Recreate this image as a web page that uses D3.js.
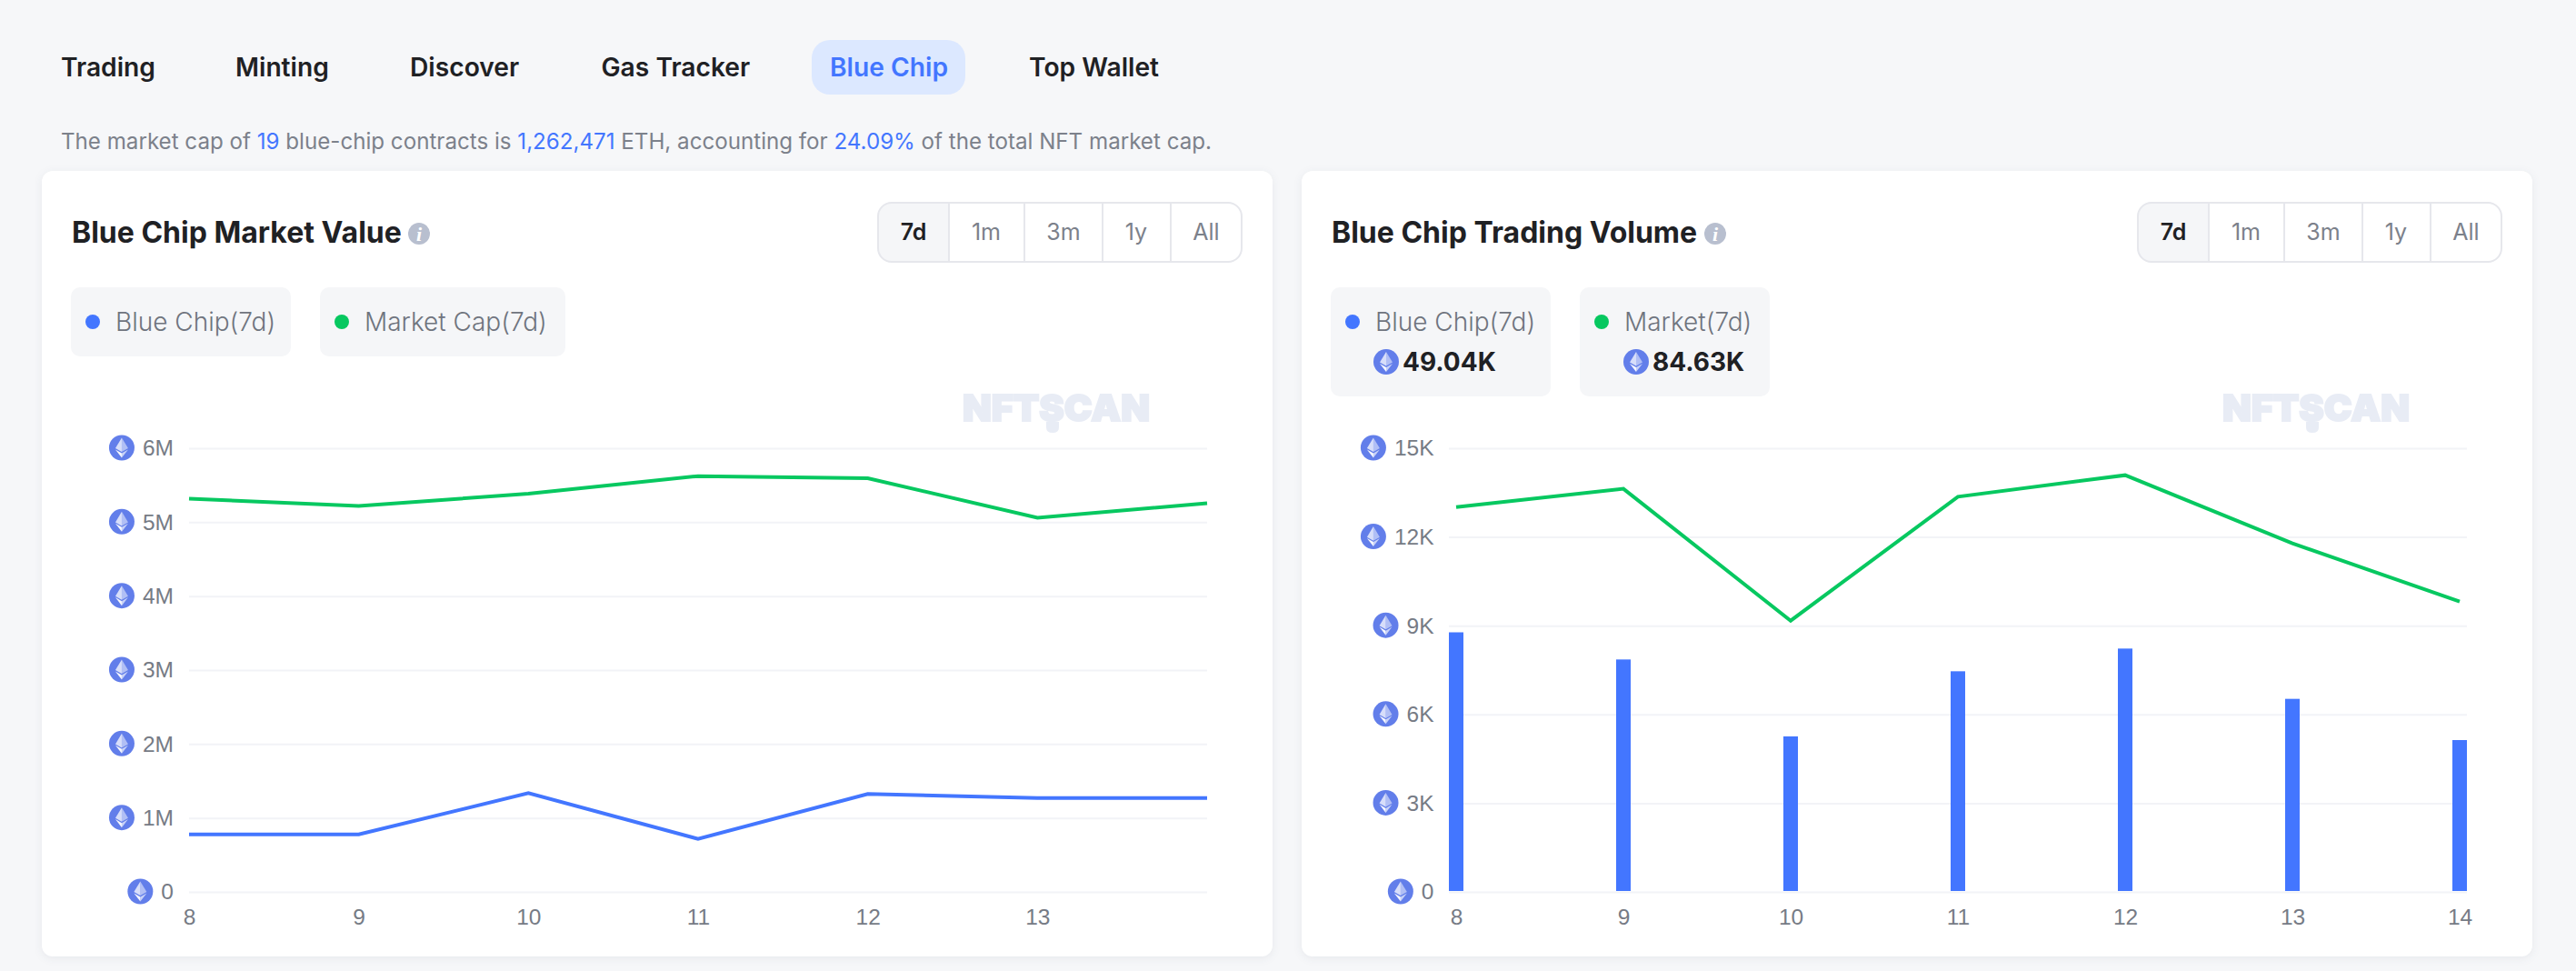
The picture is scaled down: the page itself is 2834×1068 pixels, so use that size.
<!DOCTYPE html>
<html>
<head>
<meta charset="utf-8">
<script src="https://cdn.jsdelivr.net/npm/d3@7"></script>
<style>
  html, body { margin: 0; background: #f6f7f9; }
  svg { display: block; font-family: Inter, "Noto Sans", sans-serif; }
  .tick text { font-size: 24.5px; font-weight: 300; fill: #767b85; }
  .y-axis .tick line { stroke: #f2f3f7; stroke-width: 2px; }
</style>
</head>
<body>
<div id="root"></div>
<script>
const days = ["8", "9", "10", "11", "12", "13", "14"];

const valueBlueChip = [777000, 777000, 1335000, 717000, 1324000, 1270000, 1270000];
const valueMarketCap = [5318000, 5218000, 5385000, 5623000, 5594000, 5061000, 5256000];
const valueTicks = [0, 1000000, 2000000, 3000000, 4000000, 5000000, 6000000];

const volumeBlueChip = [8776, 7858, 5258, 7459, 8227, 6527, 5133];
const volumeMarket = [13009, 13628, 9169, 13361, 14088, 11783, 9816];
const volumeTicks = [0, 3000, 6000, 9000, 12000, 15000];

const tabs = ["Trading", "Minting", "Discover", "Gas Tracker", "Blue Chip", "Top Wallet"];
const ranges = ["7d", "1m", "3m", "1y", "All"];

const BLUE = "#4376ff";
const GREEN = "#07c860";
const GREY = "#7c818b";
const DARK = "#1f2124";

const svg = d3.select("#root").append("svg")
  .attr("width", 2834)
  .attr("height", 1068);

const defs = svg.append("defs");
const eth = defs.append("symbol")
  .attr("id", "eth")
  .attr("viewBox", "-14 -14 28 28")
  .attr("overflow", "visible");
eth.append("circle").attr("r", 14).attr("fill", "#627eea");
eth.append("path").attr("d", "M0,-11 L-7,0.6 L0,4.6 Z").attr("fill", "#fff").attr("opacity", 0.75);
eth.append("path").attr("d", "M0,-11 L7,0.6 L0,4.6 Z").attr("fill", "#fff").attr("opacity", 0.5);
eth.append("path").attr("d", "M0,6 L-7,1.9 L0,11 Z").attr("fill", "#fff").attr("opacity", 0.95);
eth.append("path").attr("d", "M0,6 L7,1.9 L0,11 Z").attr("fill", "#fff").attr("opacity", 0.65);

defs.append("filter")
  .attr("id", "soft")
  .append("feGaussianBlur")
  .attr("stdDeviation", 0.7);

function useEth(parent, cx, cy) {
  parent.append("use")
    .attr("href", "#eth")
    .attr("x", cx - 14)
    .attr("y", cy - 14)
    .attr("width", 28)
    .attr("height", 28);
}

function label(parent, x, y, str, size, weight, color) {
  return parent.append("text")
    .attr("x", x)
    .attr("y", y)
    .attr("font-size", size)
    .attr("font-weight", weight)
    .attr("fill", color)
    .text(str);
}

// top tabs
const tabX = [67, 259, 451, 661.5, 913, 1132];
svg.append("rect")
  .attr("x", 893).attr("y", 44)
  .attr("width", 169).attr("height", 60)
  .attr("rx", 20)
  .attr("fill", "#dce8ff");
tabs.forEach((t, i) => {
  label(svg, tabX[i], 84, t, 28.2, 600, t === "Blue Chip" ? BLUE : DARK);
});

// subtitle, split up because of the blue numbers
const sub = svg.append("text")
  .attr("x", 67).attr("y", 164)
  .attr("font-size", 24.15)
  .attr("fill", GREY);
[
  ["The market cap of ", GREY], ["19", BLUE], [" blue-chip contracts is ", GREY],
  ["1,262,471", BLUE], [" ETH, accounting for ", GREY], ["24.09%", BLUE],
  [" of the total NFT market cap.", GREY]
].forEach(d => sub.append("tspan").attr("fill", d[1]).text(d[0]));

function card(dx, title, infoX, legends) {
  const g = svg.append("g").attr("transform", `translate(${dx}, 0)`);

  g.append("rect")
    .attr("x", 46).attr("y", 188)
    .attr("width", 1354).attr("height", 864)
    .attr("rx", 12)
    .attr("fill", "#fff")
    .style("filter", "drop-shadow(0 2px 5px rgba(30,40,70,0.07))");

  label(g, 79, 267, title, 32, 700, DARK);
  g.append("circle").attr("cx", infoX).attr("cy", 257).attr("r", 12).attr("fill", "#b8bfcf");
  g.append("text")
    .attr("x", infoX).attr("y", 265)
    .attr("text-anchor", "middle")
    .attr("font-family", "Liberation Serif")
    .attr("font-style", "italic")
    .attr("font-weight", 700)
    .attr("font-size", 22)
    .attr("fill", "#fff")
    .text("i");

  // range buttons
  const edges = [965, 1044, 1127, 1213, 1288, 1367];
  const centers = [1005, 1085, 1170, 1250, 1327];
  g.append("path")
    .attr("d", "M1044,223 H981 a15,15 0 0 0 -15,15 V273 a15,15 0 0 0 15,15 H1044 Z")
    .attr("fill", "#f5f6f8");
  g.append("rect")
    .attr("x", 966).attr("y", 223)
    .attr("width", 400).attr("height", 65)
    .attr("rx", 15)
    .attr("fill", "none")
    .attr("stroke", "#e6e7ec")
    .attr("stroke-width", 2);
  edges.slice(1, -1).forEach(x => {
    g.append("line")
      .attr("x1", x).attr("x2", x)
      .attr("y1", 223).attr("y2", 288)
      .attr("stroke", "#e6e7ec")
      .attr("stroke-width", 2);
  });
  ranges.forEach((r, i) => {
    label(g, centers[i], 264, r, 25, i === 0 ? 600 : 400, i === 0 ? DARK : GREY)
      .attr("text-anchor", "middle");
  });

  // legend boxes
  legends.forEach(d => {
    g.append("rect")
      .attr("x", d.x).attr("y", 316)
      .attr("width", d.w).attr("height", d.value ? 120 : 76)
      .attr("rx", 10)
      .attr("fill", "#f5f6f8");
    g.append("circle").attr("cx", d.x + 24).attr("cy", 354).attr("r", 8).attr("fill", d.color);
    label(g, d.x + 49, 364, d.name, 28, 300, "#6f747e");
    if (d.value) {
      useEth(g, d.x + d.valueX, 398);
      label(g, d.x + d.valueX + 18, 408, d.value, 28, 700, DARK);
    }
  });

  // watermark
  const mark = g.append("g").attr("filter", "url(#soft)");
  mark.append("text")
    .attr("x", 1059).attr("y", 463)
    .attr("font-size", 40)
    .attr("font-weight", 900)
    .attr("fill", "#e8ecf5")
    .attr("stroke", "#e8ecf5")
    .attr("stroke-width", 2)
    .attr("textLength", 206)
    .attr("lengthAdjust", "spacingAndGlyphs")
    .text("NFTSCAN");
  mark.append("path")
    .attr("d", "M1151,464 h14 v6 q0,6 -7,6 q-7,0 -7,-6 Z")
    .attr("fill", "#e8ecf5");

  return g;
}

function yAxis(parent, yScale, tickVals, fmt, left, right, pad) {
  const axis = parent.append("g")
    .attr("class", "y-axis")
    .attr("transform", `translate(${left}, 0)`)
    .call(d3.axisLeft(yScale)
      .tickValues(tickVals)
      .tickFormat(fmt)
      .tickSize(left - right)
      .tickPadding(pad));
  axis.select(".domain").remove();
  axis.selectAll(".tick").each(function () {
    const tick = d3.select(this);
    const w = tick.select("text").node().getComputedTextLength();
    useEth(tick, -pad - w - 23, -1);
  });
}

function xAxis(parent, xScale, hideLast) {
  const axis = parent.append("g")
    .attr("transform", "translate(0, 981)")
    .call(d3.axisBottom(xScale).tickSize(0).tickPadding(19));
  axis.select(".domain").remove();
  if (hideLast) axis.selectAll(".tick").filter(d => d === "14").remove();
}

function drawLine(parent, xScale, yScale, values, color) {
  parent.append("path")
    .datum(values)
    .attr("fill", "none")
    .attr("stroke", color)
    .attr("stroke-width", 4)
    .attr("d", d3.line()
      .x((d, i) => xScale(days[i]))
      .y(d => yScale(d)));
}

// market value chart
const left = card(0, "Blue Chip Market Value", 461, [
  { x: 78, w: 242, color: BLUE, name: "Blue Chip(7d)" },
  { x: 352, w: 270, color: GREEN, name: "Market Cap(7d)" }
]);
const valueX = d3.scalePoint().domain(days).range([208, 1328]);
const valueY = d3.scaleLinear().domain([0, 6000000]).range([981, 493]);
yAxis(left, valueY, valueTicks, d => d === 0 ? "0" : (d / 1000000) + "M", 208, 1328, 17);
xAxis(left, valueX, true);
drawLine(left, valueX, valueY, valueMarketCap, GREEN);
drawLine(left, valueX, valueY, valueBlueChip, BLUE);

// trading volume chart
const right = card(1386, "Blue Chip Trading Volume", 501, [
  { x: 78, w: 242, color: BLUE, name: "Blue Chip(7d)", value: "49.04K", valueX: 61 },
  { x: 352, w: 209, color: GREEN, name: "Market(7d)", value: "84.63K", valueX: 62 }
]);
const volumeX = d3.scalePoint().domain(days).range([208, 1328]).padding(8 / 184);
const volumeY = d3.scaleLinear().domain([0, 15000]).range([981, 493]);
yAxis(right, volumeY, volumeTicks, d => d === 0 ? "0" : (d / 1000) + "K", 208, 1328, 16.5);
xAxis(right, volumeX, false);
right.selectAll(".bar")
  .data(volumeBlueChip)
  .enter()
  .append("rect")
  .attr("class", "bar")
  .attr("x", (d, i) => volumeX(days[i]) - 8)
  .attr("y", d => volumeY(d))
  .attr("width", 16)
  .attr("height", d => volumeY(0) - volumeY(d) - 1)
  .attr("fill", BLUE);
drawLine(right, volumeX, volumeY, volumeMarket, GREEN);
</script>
</body>
</html>
